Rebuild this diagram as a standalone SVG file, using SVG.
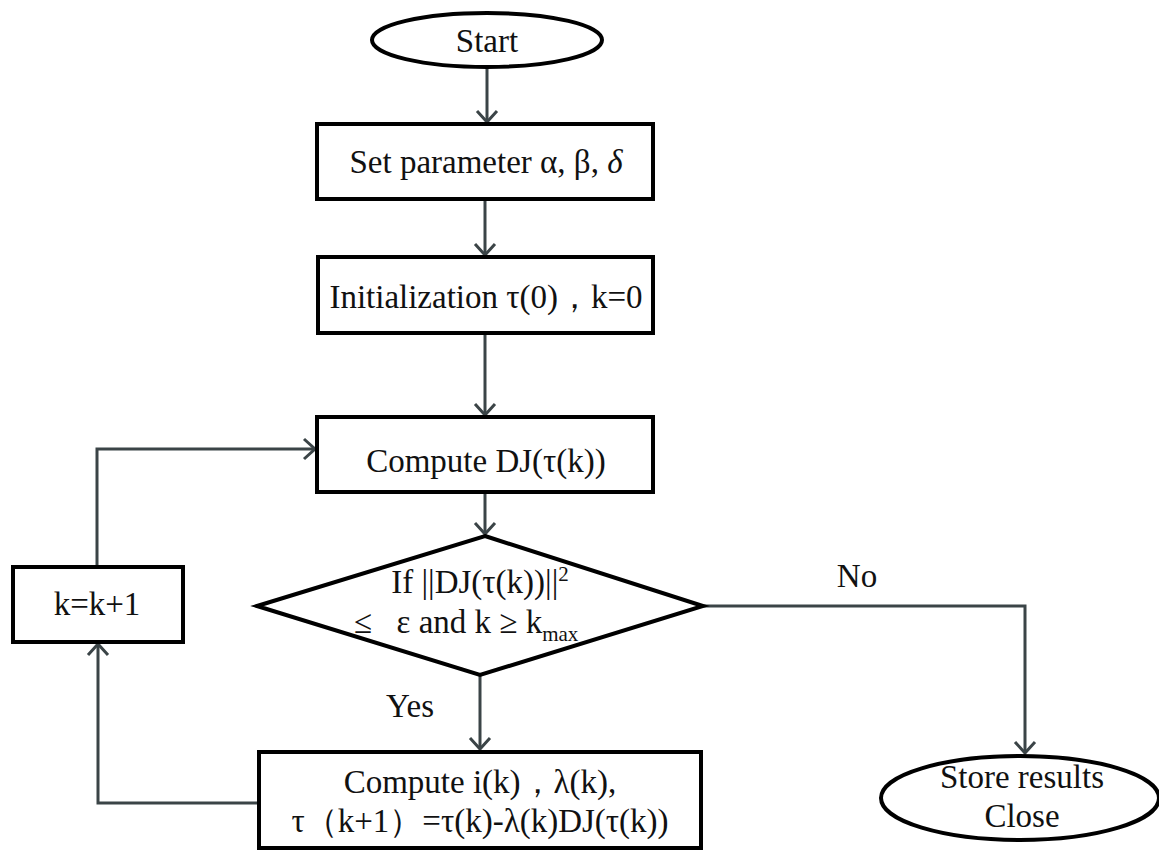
<svg xmlns="http://www.w3.org/2000/svg" width="1159" height="852" viewBox="0 0 1159 852">
<defs>
<style>
.node{fill:#fff;stroke:#000;stroke-width:4}
.t{font-family:"Liberation Serif","Times New Roman",serif;font-size:33px;fill:#111;text-anchor:middle}
.conn{fill:none;stroke:#3b4447;stroke-width:3}
</style>
<marker id="arr" markerUnits="userSpaceOnUse" markerWidth="24" markerHeight="24" refX="13" refY="12" orient="auto">
<path d="M2,2 L13,12 L2,22" fill="none" stroke="#3b4447" stroke-width="3"/>
</marker>
</defs>
<rect width="1159" height="852" fill="#fff"/>
<g id="connectors">
<line class="conn" x1="487" y1="67" x2="487" y2="122" marker-end="url(#arr)"/>
<line class="conn" x1="485" y1="199" x2="485" y2="255" marker-end="url(#arr)"/>
<line class="conn" x1="485" y1="333" x2="485" y2="415" marker-end="url(#arr)"/>
<line class="conn" x1="485" y1="492" x2="485" y2="534" marker-end="url(#arr)"/>
<line class="conn" x1="480" y1="675" x2="480" y2="749" marker-end="url(#arr)"/>
<path class="conn" d="M258,803 H98 V644" marker-end="url(#arr)"/>
<path class="conn" d="M97,567 V449 H315" marker-end="url(#arr)"/>
<path class="conn" d="M703,606 H1025 V753" marker-end="url(#arr)"/>
<text class="t" x="410" y="717">Yes</text>
<text class="t" x="857" y="587">No</text>
</g>
<g id="start">
<ellipse class="node" cx="487" cy="40" rx="115" ry="27"/>
<text class="t" x="487" y="52">Start</text>
</g>
<g id="set-param">
<rect class="node" x="317" y="124" width="336" height="75"/>
<text class="t" x="486" y="173">Set parameter α, β, <tspan font-style="italic">δ</tspan></text>
</g>
<g id="init">
<rect class="node" x="318" y="257" width="335" height="76"/>
<text class="t" x="486" y="308">Initialization τ(0)，k=0</text>
</g>
<g id="compute-dj">
<rect class="node" x="317" y="417" width="336" height="75"/>
<text class="t" x="486" y="472">Compute DJ(τ(k))</text>
</g>
<g id="decision">
<polygon class="node" points="485,536 703,606 480,675 257,606"/>
<text class="t" x="480" y="593">If ||DJ(τ(k))||<tspan font-size="21" dy="-12">2</tspan></text>
<text class="t" x="466" y="633" xml:space="preserve">≤   ε and k ≥ k<tspan font-size="21" dy="8">max</tspan></text>
</g>
<g id="compute-update">
<rect class="node" x="259" y="752" width="442" height="96"/>
<text class="t" x="480" y="793">Compute i(k)，λ(k),</text>
<text class="t" x="480" y="832">τ（k+1）=τ(k)-λ(k)DJ(τ(k))</text>
</g>
<g id="increment">
<rect class="node" x="13" y="567" width="170" height="75"/>
<text class="t" x="97" y="615">k=k+1</text>
</g>
<g id="store">
<ellipse class="node" cx="1020" cy="798" rx="139" ry="42"/>
<text class="t" x="1022" y="788">Store results</text>
<text class="t" x="1022" y="827">Close</text>
</g>
</svg>
